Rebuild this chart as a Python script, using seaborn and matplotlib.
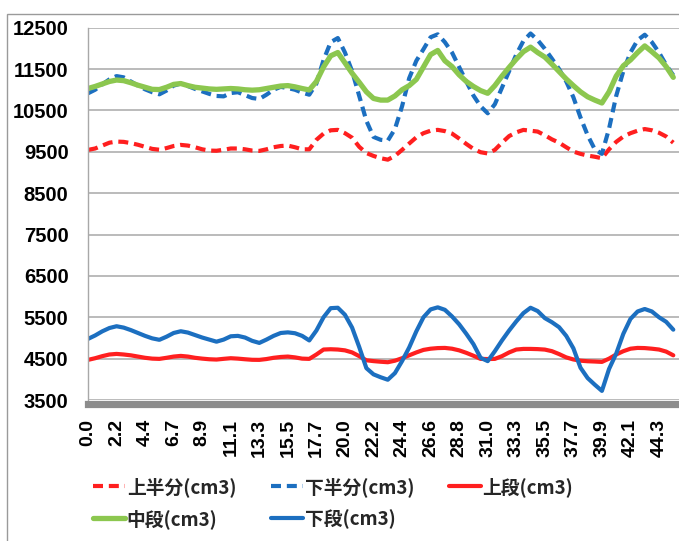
import numpy as np
import pandas as pd
import matplotlib
matplotlib.use("Agg")
import matplotlib.pyplot as plt
from matplotlib.patches import Rectangle
import seaborn as sns

# sample index (every 5th record), x tick labels every 20 records
sample_idx = np.arange(0, 411, 5)
tick_idx = np.arange(0, 401, 20)
tick_labels = ["0.0", "2.2", "4.4", "6.7", "8.9", "11.1", "13.3", "15.5", "17.7", "20.0",
               "22.2", "24.4", "26.6", "28.8", "31.0", "33.3", "35.5", "37.7", "39.9",
               "42.1", "44.3"]

upper_half = [9546, 9580, 9650, 9720, 9747, 9740, 9710, 9670, 9620, 9570,
              9550, 9590, 9640, 9667, 9650, 9610, 9560, 9530, 9525, 9550,
              9580, 9580, 9560, 9530, 9522, 9560, 9610, 9640, 9650, 9610,
              9560, 9560, 9790, 9940, 10020, 10030, 9950, 9840, 9620, 9470,
              9400, 9345, 9310, 9400, 9546, 9700, 9850, 9950, 10010, 10030,
              10000, 9940, 9820, 9690, 9570, 9490, 9460, 9546, 9720, 9880,
              9970, 10029, 10010, 9989, 9900, 9800, 9720, 9610, 9506, 9450,
              9409, 9380, 9345, 9560, 9740, 9868, 9950, 10010, 10050, 10020,
              9960, 9870, 9720]

lower_half = [10914, 11000, 11130, 11250, 11330, 11300, 11200, 11100, 11010, 10940,
              10890, 10980, 11100, 11150, 11090, 11020, 10960, 10900, 10850, 10840,
              10920, 10940, 10870, 10800, 10777, 10880, 11000, 11070, 11040, 11000,
              10930, 10880, 11150, 11720, 12150, 12250, 11900, 11450, 10850, 10250,
              9860, 9790, 9770, 10050, 10600, 11280, 11700, 11980, 12270, 12340,
              12150, 11900, 11550, 11200, 10860, 10600, 10431, 10650, 11050, 11450,
              11850, 12180, 12360, 12200, 11990, 11750, 11500, 11200, 10820, 10330,
              9900, 9560, 9450, 10060, 10850, 11450, 11900, 12200, 12330, 12150,
              11900, 11600, 11350]

top_stage = [4470, 4510, 4560, 4600, 4614, 4600, 4580, 4550, 4520, 4500,
             4494, 4520, 4550, 4566, 4550, 4520, 4500, 4485, 4478, 4495,
             4510, 4500, 4485, 4472, 4470, 4490, 4520, 4540, 4550, 4530,
             4500, 4494, 4600, 4720, 4727, 4720, 4700, 4650, 4560, 4460,
             4440, 4425, 4413, 4450, 4510, 4580, 4650, 4711, 4740, 4755,
             4759, 4740, 4700, 4640, 4570, 4494, 4490, 4494, 4560, 4650,
             4720, 4735, 4735, 4730, 4719, 4680, 4610, 4530, 4480, 4450,
             4437, 4430, 4421, 4500, 4600, 4680, 4740, 4759, 4755, 4740,
             4720, 4670, 4580]

middle_stage = [11030, 11080, 11140, 11200, 11235, 11220, 11170, 11110, 11060, 11010,
                11005, 11060, 11130, 11150, 11100, 11060, 11040, 11020, 11010, 11020,
                11030, 11020, 11000, 10990, 11000, 11030, 11060, 11090, 11100, 11070,
                11030, 10995, 11200, 11550, 11820, 11900, 11650, 11400, 11180, 10950,
                10790, 10750, 10750, 10850, 11000, 11100, 11250, 11550, 11850, 11950,
                11700, 11560, 11360, 11200, 11080, 10980, 10914, 11100, 11330, 11540,
                11740, 11920, 12030, 11900, 11790, 11620, 11440, 11260, 11100, 10950,
                10830, 10750, 10680, 10950, 11330, 11580, 11720, 11900, 12060, 11920,
                11770, 11560, 11300]

bottom_stage = [4977, 5060, 5160, 5240, 5283, 5250, 5190, 5120, 5050, 4990,
                4955, 5030, 5120, 5162, 5130, 5070, 5010, 4960, 4910, 4960,
                5040, 5050, 5010, 4930, 4880, 4960, 5050, 5120, 5135, 5114,
                5050, 4940, 5180, 5500, 5720, 5730, 5560, 5250, 4780, 4270,
                4120, 4050, 3990, 4150, 4440, 4770, 5160, 5500, 5690, 5740,
                5680, 5520, 5330, 5100, 4850, 4520, 4440, 4680, 4940, 5180,
                5400, 5600, 5730, 5650, 5480, 5380, 5260, 5050, 4750, 4280,
                4030, 3870, 3720, 4250, 4620, 5100, 5460, 5640, 5700, 5640,
                5500, 5390, 5200]

RED = "#FF1F1F"
BLUE = "#1C6FC0"
GREEN = "#8CC74F"

series = [
    ("上半分(cm3)", upper_half, RED, (0, (2.4, 1.4)), 3.0),
    ("下半分(cm3)", lower_half, BLUE, (0, (2.4, 1.4)), 3.0),
    ("上段(cm3)", top_stage, RED, "-", 3.0),
    ("中段(cm3)", middle_stage, GREEN, "-", 3.8),
    ("下段(cm3)", bottom_stage, BLUE, "-", 3.0),
]

sns.set_style("white")
plt.rcParams['font.family'] = ['Liberation Sans', 'Noto Sans CJK JP', 'DejaVu Sans']

fig = plt.figure(figsize=(6.79, 5.41), dpi=100)
ax = fig.add_axes([88 / 679, 1 - 400 / 541, 1 - 88 / 679, (400 - 27.7) / 541])

handles = {}
for name, vals, color, ls, lw in series:
    df = pd.DataFrame({"idx": sample_idx, "val": vals})
    sns.lineplot(data=df, x="idx", y="val", ax=ax, color=color, linestyle=ls,
                 linewidth=lw, label=name)
    handles[name] = ax.lines[-1]

ax.set_xlim(0, 414)
ax.set_ylim(3500, 12500)
ax.set_xlabel("")
ax.set_ylabel("")

ax.grid(axis='y', color='#A8A8A8', linewidth=1.1)
ax.set_axisbelow(True)
for s in ['top', 'right']:
    ax.spines[s].set_visible(False)
ax.spines['left'].set_color('#A8A8A8')
ax.spines['left'].set_linewidth(1.0)
ax.spines['bottom'].set_color('#8C8C8C')
ax.spines['bottom'].set_linewidth(5.2)
ax.spines['bottom'].set_position(('outward', 2.6))
ax.tick_params(axis='y', length=5, width=1, color='#A8A8A8', pad=9,
               labelcolor='black', labelsize=14.5)
ax.tick_params(axis='x', length=0, pad=11, labelcolor='black',
               labelsize=14, labelrotation=90)

ax.set_yticks(np.arange(3500, 12501, 1000))
ax.set_xticks(tick_idx)
ax.set_xticklabels(tick_labels)
plt.setp(ax.get_xticklabels(), fontweight='bold', rotation=90, fontsize=14)
plt.setp(ax.get_yticklabels(), fontweight='bold', fontsize=14.5)

order = ["上半分(cm3)", "中段(cm3)", "下半分(cm3)", "下段(cm3)", "上段(cm3)"]
ax.legend([handles[n] for n in order], order, ncol=3, frameon=False,
          loc='upper left', bbox_to_anchor=(93 / 679, 1 - 477 / 541),
          bbox_transform=fig.transFigure, borderpad=0, borderaxespad=0,
          handlelength=1.7, handletextpad=0.1, columnspacing=1.85, labelspacing=0.65,
          prop={'family': ['Noto Sans CJK JP'], 'weight': 'bold', 'size': 13.5})

# outer chart border (only top and left edges visible)
fig.add_artist(Rectangle((7 / 679, -0.1), 1.2, 1 - 14 / 541 + 0.1,
                         transform=fig.transFigure, fill=False,
                         edgecolor='#9A9A9A', linewidth=1.0))

fig.savefig("out.png", dpi=100)
